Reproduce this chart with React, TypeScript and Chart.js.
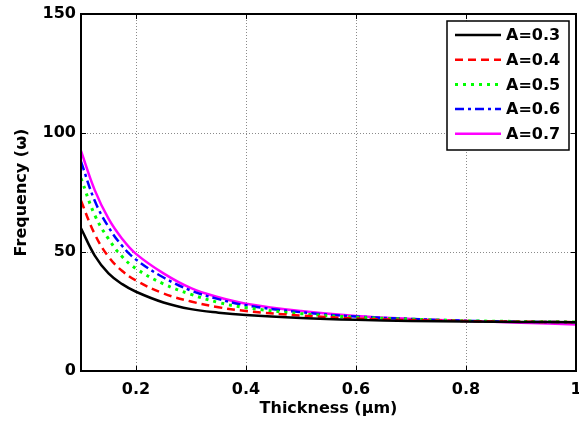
import React, { useEffect, useRef } from "react";
import { Chart, registerables } from "chart.js";

Chart.register(...registerables);

const thickness = [0.1, 0.125, 0.15, 0.175, 0.2, 0.25, 0.3, 0.35, 0.4, 0.5, 0.6, 0.7, 0.8, 0.9, 1.0];
const freqA03 = [60, 48.5, 41, 36.5, 33.3, 28.8, 26, 24.5, 23.5, 22.3, 21.5, 21, 20.8, 20.6, 20.5];
const freqA04 = [71.5, 57.5, 48, 42, 38, 32.6, 29.2, 26.8, 25.2, 23.3, 22.1, 21.4, 21, 20.7, 20.5];
const freqA05 = [81, 65.5, 55.5, 48, 43, 36.6, 32.2, 28.8, 26.6, 24.1, 22.6, 21.8, 21.1, 20.8, 20.6];
const freqA06 = [88, 71.5, 60.5, 52.5, 46.8, 39.3, 33.8, 30.2, 27.6, 24.7, 22.9, 21.9, 21.1, 20.7, 20.5];
const freqA07 = [92.5, 76, 64, 55.5, 49.2, 41, 34.8, 31, 28.3, 25.2, 23.1, 21.9, 21, 20.3, 19.5];

const seriesLabels = ["A=0.3", "A=0.4", "A=0.5", "A=0.6", "A=0.7"];
const xTicks = [0.2, 0.4, 0.6, 0.8, 1];
const yTicks = [0, 50, 100, 150];

const FONT = "'DejaVu Sans', sans-serif";

const framePlugin = {
  id: "matlabFrame",
  beforeDatasetsDraw(chart: any) {
    const { ctx, chartArea: a, scales } = chart;
    ctx.save();
    ctx.strokeStyle = "#8a8a8a";
    ctx.lineWidth = 1;
    ctx.setLineDash([1, 2]);
    xTicks.forEach((v) => {
      const x = Math.round(scales.x.getPixelForValue(v)) + 0.5;
      if (x > a.left + 2 && x < a.right - 2) {
        ctx.beginPath();
        ctx.moveTo(x, a.top);
        ctx.lineTo(x, a.bottom);
        ctx.stroke();
      }
    });
    yTicks.forEach((v) => {
      const y = Math.round(scales.y.getPixelForValue(v)) + 0.5;
      if (y > a.top + 2 && y < a.bottom - 2) {
        ctx.beginPath();
        ctx.moveTo(a.left, y);
        ctx.lineTo(a.right, y);
        ctx.stroke();
      }
    });
    ctx.restore();
  },
  afterDatasetsDraw(chart: any) {
    const { ctx, chartArea: a, scales } = chart;
    ctx.save();
    ctx.strokeStyle = "#000";
    ctx.setLineDash([]);
    ctx.lineWidth = 1;
    const tl = 5;
    xTicks.forEach((v) => {
      const x = Math.round(scales.x.getPixelForValue(v)) + 0.5;
      ctx.beginPath();
      ctx.moveTo(x, a.bottom);
      ctx.lineTo(x, a.bottom - tl);
      ctx.moveTo(x, a.top);
      ctx.lineTo(x, a.top + tl);
      ctx.stroke();
    });
    yTicks.forEach((v) => {
      const y = Math.round(scales.y.getPixelForValue(v)) + 0.5;
      ctx.beginPath();
      ctx.moveTo(a.left, y);
      ctx.lineTo(a.left + tl, y);
      ctx.moveTo(a.right, y);
      ctx.lineTo(a.right - tl, y);
      ctx.stroke();
    });
    ctx.lineWidth = 2;
    ctx.strokeRect(a.left, a.top, a.right - a.left, a.bottom - a.top);

    // legend
    const bx = 447, by = 21, bw = 122, bh = 129;
    ctx.fillStyle = "#fff";
    ctx.fillRect(bx, by, bw, bh);
    ctx.lineWidth = 1.5;
    ctx.strokeStyle = "#000";
    ctx.strokeRect(bx, by, bw, bh);
    const rowY0 = 35;
    const rowH = 24.7;
    chart.data.datasets.forEach((ds: any, i: number) => {
      const y = rowY0 + i * rowH;
      ctx.save();
      ctx.strokeStyle = ds.borderColor;
      ctx.lineWidth = ds.borderWidth;
      ctx.setLineDash(ds.borderDash || []);
      ctx.beginPath();
      ctx.moveTo(455, y);
      ctx.lineTo(501, y);
      ctx.stroke();
      ctx.restore();
      ctx.fillStyle = "#000";
      ctx.font = `bold 16px ${FONT}`;
      ctx.textBaseline = "middle";
      ctx.textAlign = "left";
      ctx.fillText(ds.label, 506, y + 1);
    });
    ctx.restore();
  },
};

export default function App() {
  const ref = useRef<HTMLCanvasElement | null>(null);
  useEffect(() => {
    if (!ref.current) return;
    const mk = (ys: number[]) => thickness.map((x, i) => ({ x, y: ys[i] }));
    const common = { pointRadius: 0, tension: 0.4 };
    const chart = new Chart(ref.current, {
      type: "line",
      data: {
        datasets: [
          { ...common, label: seriesLabels[0], data: mk(freqA03), borderColor: "#000000", borderWidth: 2.5, borderDash: [] },
          { ...common, label: seriesLabels[1], data: mk(freqA04), borderColor: "#ff0000", borderWidth: 2.5, borderDash: [8, 5] },
          { ...common, label: seriesLabels[2], data: mk(freqA05), borderColor: "#00ff00", borderWidth: 3, borderDash: [3, 5] },
          { ...common, label: seriesLabels[3], data: mk(freqA06), borderColor: "#0000ff", borderWidth: 2.5, borderDash: [9, 4, 3, 4] },
          { ...common, label: seriesLabels[4], data: mk(freqA07), borderColor: "#ff00ff", borderWidth: 2.5, borderDash: [] },
        ],
      } as any,
      options: {
        animation: false,
        responsive: false,
        devicePixelRatio: 1,
        layout: { padding: { top: 14, right: 3, left: 0, bottom: 0 } },
        plugins: { legend: { display: false }, tooltip: { enabled: false } },
        scales: {
          x: {
            type: "linear",
            min: 0.1,
            max: 1,
            afterBuildTicks: (s: any) => { s.ticks = xTicks.map((v) => ({ value: v })); },
            afterFit: (s: any) => { s.height = 52; s.paddingRight = 0; s.paddingLeft = 0; },
            grid: { display: false, drawTicks: false },
            border: { display: false },
            ticks: {
              color: "#000",
              padding: 9,
              maxRotation: 0,
              autoSkip: false,
              font: { family: FONT, size: 16, weight: "bold" },
              callback: (v: any) => String(v),
            },
            title: {
              display: true,
              text: "Thickness (μm)",
              color: "#000",
              font: { family: FONT, size: 16, weight: "bold" },
              padding: { top: 0, bottom: 5 },
            },
          },
          y: {
            type: "linear",
            min: 0,
            max: 150,
            afterBuildTicks: (s: any) => { s.ticks = yTicks.map((v) => ({ value: v })); },
            afterFit: (s: any) => { s.width = 81; s.paddingTop = 0; s.paddingBottom = 0; },
            grid: { display: false, drawTicks: false },
            border: { display: false },
            ticks: {
              color: "#000",
              padding: 5,
              autoSkip: false,
              font: { family: FONT, size: 16, weight: "bold" },
              callback: (v: any) => String(v),
            },
            title: {
              display: true,
              text: "Frequency (ω)",
              color: "#000",
              font: { family: FONT, size: 16, weight: "bold" },
              padding: { top: 12, bottom: 0 },
            },
          },
        },
      } as any,
      plugins: [framePlugin],
    });
    return () => chart.destroy();
  }, []);
  return (
    <div style={{ position: "absolute", left: 0, top: 0, width: 579, height: 423, background: "#fff" }}>
      <canvas ref={ref} width={579} height={423} style={{ width: 579, height: 423, display: "block" }} />
    </div>
  );
}
